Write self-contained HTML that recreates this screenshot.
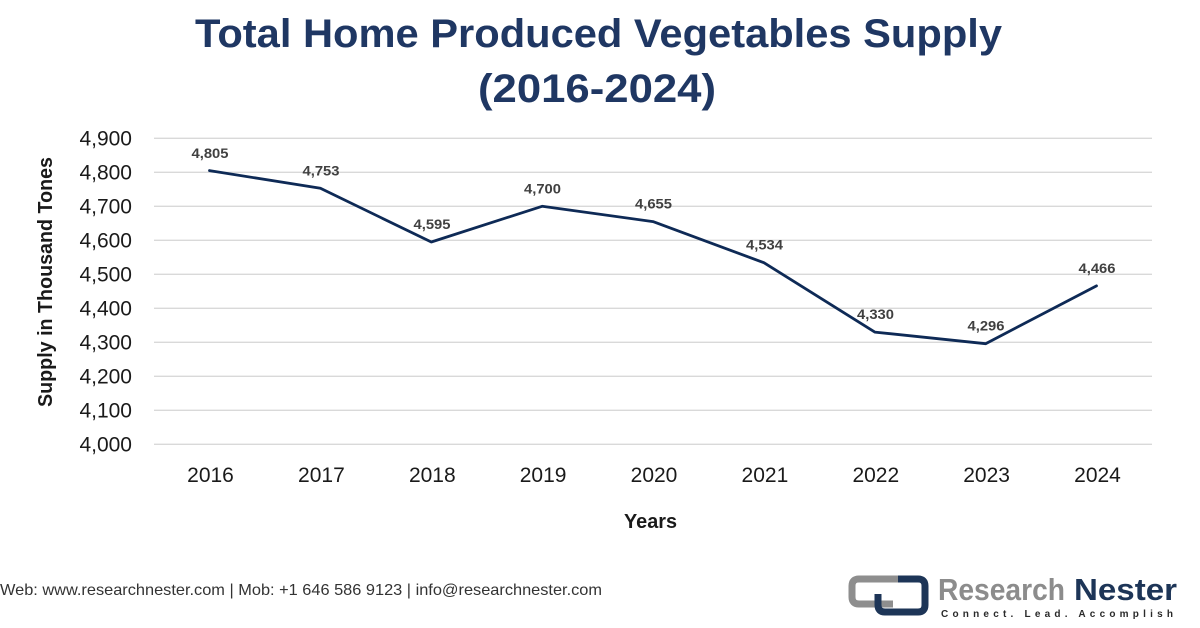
<!DOCTYPE html>
<html>
<head>
<meta charset="utf-8">
<style>
  html, body { margin: 0; padding: 0; background: #ffffff; }
  body { width: 1200px; height: 628px; overflow: hidden; }
  svg { display: block; }
  text { font-family: "Liberation Sans", Arial, sans-serif; }
</style>
</head>
<body>
<svg width="1200" height="628" viewBox="0 0 1200 628" xmlns="http://www.w3.org/2000/svg">
  <rect x="0" y="0" width="1200" height="628" fill="#ffffff"/>

  <!-- Title -->
  <text x="195" y="47" font-size="40" font-weight="bold" fill="#1f3763" textLength="807" lengthAdjust="spacingAndGlyphs">Total Home Produced Vegetables Supply</text>
  <text x="478" y="102" font-size="40" font-weight="bold" fill="#1f3763" textLength="238" lengthAdjust="spacingAndGlyphs">(2016-2024)</text>

  <!-- Gridlines -->
  <g stroke="#d9d9d9" stroke-width="1.3">
    <line x1="154" y1="138.3" x2="1152" y2="138.3"/>
    <line x1="154" y1="172.3" x2="1152" y2="172.3"/>
    <line x1="154" y1="206.3" x2="1152" y2="206.3"/>
    <line x1="154" y1="240.3" x2="1152" y2="240.3"/>
    <line x1="154" y1="274.3" x2="1152" y2="274.3"/>
    <line x1="154" y1="308.3" x2="1152" y2="308.3"/>
    <line x1="154" y1="342.3" x2="1152" y2="342.3"/>
    <line x1="154" y1="376.3" x2="1152" y2="376.3"/>
    <line x1="154" y1="410.3" x2="1152" y2="410.3"/>
    <line x1="154" y1="444.3" x2="1152" y2="444.3"/>
  </g>

  <!-- Y tick labels -->
  <g font-size="21" fill="#1a1a1a" text-anchor="end">
    <text x="132" y="145.5">4,900</text>
    <text x="132" y="179.5">4,800</text>
    <text x="132" y="213.5">4,700</text>
    <text x="132" y="247.5">4,600</text>
    <text x="132" y="281.5">4,500</text>
    <text x="132" y="315.5">4,400</text>
    <text x="132" y="349.5">4,300</text>
    <text x="132" y="383.5">4,200</text>
    <text x="132" y="417.5">4,100</text>
    <text x="132" y="451.5">4,000</text>
  </g>

  <!-- Y axis title -->
  <text transform="translate(52,282) rotate(-90)" text-anchor="middle" font-size="20" font-weight="bold" fill="#1a1a1a" textLength="250" lengthAdjust="spacingAndGlyphs">Supply in Thousand Tones</text>

  <!-- X tick labels -->
  <g font-size="21" fill="#1a1a1a" text-anchor="middle">
    <text x="210.5" y="482">2016</text>
    <text x="321.4" y="482">2017</text>
    <text x="432.3" y="482">2018</text>
    <text x="543.1" y="482">2019</text>
    <text x="654" y="482">2020</text>
    <text x="764.9" y="482">2021</text>
    <text x="875.8" y="482">2022</text>
    <text x="986.6" y="482">2023</text>
    <text x="1097.5" y="482">2024</text>
  </g>

  <!-- X axis title -->
  <text x="650.5" y="528" text-anchor="middle" font-size="20" font-weight="bold" fill="#1a1a1a" textLength="53" lengthAdjust="spacingAndGlyphs">Years</text>

  <!-- Series line -->
  <polyline fill="none" stroke="#0e2a56" stroke-width="2.8" stroke-linejoin="round" stroke-linecap="round"
    points="209.5,170.6 320.4,188.3 431.3,242.0 542.1,206.3 653,221.6 763.9,262.7 874.8,332.1 985.6,343.7 1096.5,285.9"/>

  <!-- Data labels -->
  <g font-size="14" font-weight="bold" fill="#404040" text-anchor="middle">
    <text x="210" y="158" textLength="37" lengthAdjust="spacingAndGlyphs">4,805</text>
    <text x="321" y="175.5" textLength="37" lengthAdjust="spacingAndGlyphs">4,753</text>
    <text x="432" y="229" textLength="37" lengthAdjust="spacingAndGlyphs">4,595</text>
    <text x="542.5" y="193.5" textLength="37" lengthAdjust="spacingAndGlyphs">4,700</text>
    <text x="653.5" y="208.5" textLength="37" lengthAdjust="spacingAndGlyphs">4,655</text>
    <text x="764.5" y="249.5" textLength="37" lengthAdjust="spacingAndGlyphs">4,534</text>
    <text x="875.5" y="319" textLength="37" lengthAdjust="spacingAndGlyphs">4,330</text>
    <text x="986" y="330.5" textLength="37" lengthAdjust="spacingAndGlyphs">4,296</text>
    <text x="1097" y="273" textLength="37" lengthAdjust="spacingAndGlyphs">4,466</text>
  </g>

  <!-- Footer -->
  <text x="0" y="595" font-size="16" fill="#333333" textLength="602" lengthAdjust="spacingAndGlyphs">Web: www.researchnester.com | Mob: +1 646 586 9123 | info@researchnester.com</text>

  <!-- Logo icon -->
  <path d="M 905 579 H 859 Q 852 579 852 586 V 597 Q 852 604 859 604 H 893" fill="none" stroke="#8e8e8e" stroke-width="7" stroke-linecap="butt"/>
  <path d="M 878 594 V 605 Q 878 612 885 612 H 918 Q 925 612 925 605 V 586 Q 925 579 918 579 H 898" fill="none" stroke="#1d3557" stroke-width="7" stroke-linecap="butt"/>

  <!-- Logo text -->
  <text x="938" y="600" font-size="31" font-weight="bold" fill="#8c8c8c" textLength="127" lengthAdjust="spacingAndGlyphs">Research</text>
  <text x="1074" y="600" font-size="31" font-weight="bold" fill="#1d3557" textLength="103" lengthAdjust="spacingAndGlyphs">Nester</text>
  <text x="941" y="617" font-size="10" font-weight="bold" fill="#2a2a2a" textLength="232" lengthAdjust="spacing">Connect. Lead. Accomplish</text>
</svg>
</body>
</html>
